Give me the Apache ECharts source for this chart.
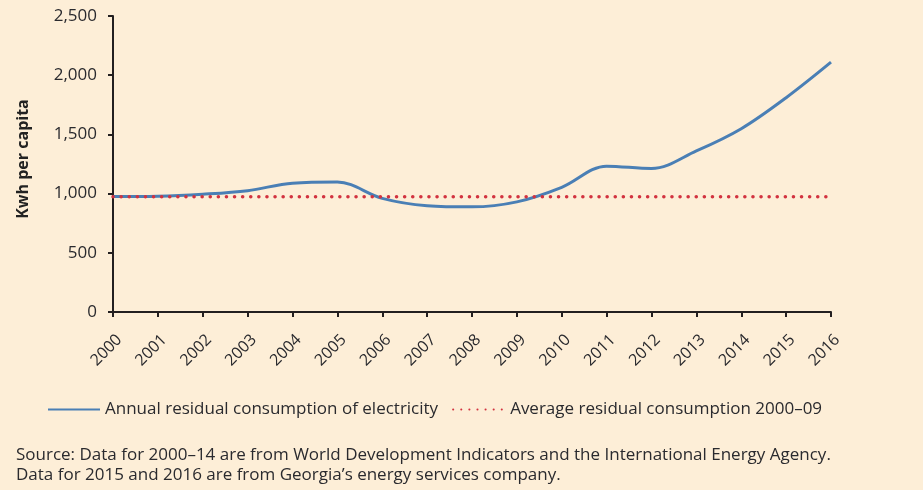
<!DOCTYPE html>
<html><head><meta charset="utf-8">
<script src="https://cdn.jsdelivr.net/npm/echarts@6/dist/echarts.min.js"></script>
<style>html,body{margin:0;padding:0;background:#fdeed7;}#c{width:923px;height:490px;}</style>
</head><body><div id="c"></div>
<script>
var years = ['2000','2001','2002','2003','2004','2005','2006','2007','2008','2009','2010','2011','2012','2013','2014','2015','2016'];
var annual = [975, 978, 995, 1025, 1088, 1098, 960, 898, 888, 930, 1053, 1232, 1212, 1360, 1548, 1810, 2110];
var average = [974, 974, 974, 974, 974, 974, 974, 974, 974, 974, 974, 974, 974, 974, 974, 974, 974];
var yTicks = [0, 500, 1000, 1500, 2000, 2500];
var seriesNames = ['Annual residual consumption of electricity', 'Average residual consumption 2000\u201309'];
var sourceText = 'Source: Data for 2000\u201314 are from World Development Indicators and the International Energy Agency.\nData for 2015 and 2016 are from Georgia\u2019s energy services company.';

var FONT = 'Open Sans';
var TXT = '#2a2a2e';
var chart = echarts.init(document.getElementById('c'));
chart.setOption({
  backgroundColor: '#fdeed7',
  animation: false,
  grid: {left: 113, right: 92, top: 16, bottom: 178},
  legend: {
    top: 396, left: 42,
    itemWidth: 52, itemHeight: 14, itemGap: 14,
    itemStyle: {opacity: 0},
    textStyle: {fontFamily: FONT, fontSize: 17, color: TXT},
    data: seriesNames
  },
  graphic: [
    {type: 'text', left: 16, top: 445, style: {text: sourceText, font: '17px ' + FONT, fill: TXT, lineHeight: 20}},
    {type: 'text', x: 23, y: 159, rotation: Math.PI/2, style: {text: 'Kwh per capita', font: 'bold 16px ' + FONT, fill: '#222', align: 'center', verticalAlign: 'middle'}}
  ],
  xAxis: {
    type: 'category', data: years, boundaryGap: false,
    axisLine: {lineStyle: {color: '#231f20', width: 2}},
    axisTick: {length: 5, lineStyle: {color: '#231f20', width: 2}},
    axisLabel: {rotate: 45, margin: 19,
      formatter: function(v){ return '{a|' + v + '}'; },
      rich: {a: {fontFamily: FONT, fontSize: 16, color: TXT, padding: [18, 0, 0, 0]}}}
  },
  yAxis: {
    type: 'value', min: 0, max: 2500, interval: 500,
    axisLine: {show: true, lineStyle: {color: '#231f20', width: 2}},
    axisTick: {show: true, length: 5, lineStyle: {color: '#231f20', width: 2}},
    splitLine: {show: false},
    axisLabel: {fontFamily: FONT, fontSize: 17, color: TXT, margin: 16,
      formatter: function(v){ return v.toLocaleString('en-US'); }}
  },
  series: [
    {name: seriesNames[0], type: 'line', data: annual, smooth: 0.35, showSymbol: false, symbol: 'none',
      lineStyle: {color: '#4a7fb5', width: 3}, itemStyle: {color: '#4a7fb5'}, z: 3},
    {name: seriesNames[1], type: 'line', data: average, showSymbol: false, symbol: 'none',
      lineStyle: {color: '#d2323f', width: 3.5, type: [0.1, 8], cap: 'round'}, itemStyle: {color: '#d2323f'}, z: 4}
  ]
});
</script></body></html>
